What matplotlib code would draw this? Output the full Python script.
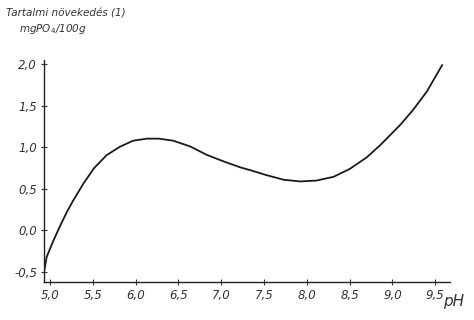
import matplotlib.pyplot as plt

# readings (pH vs. content increase, mgPO4/100g)
ph = [4.93, 4.96, 5.04, 5.12, 5.195, 5.27, 5.39, 5.51, 5.66, 5.82, 5.97, 6.13,
      6.27, 6.44, 6.64, 6.83, 7.03, 7.22, 7.34, 7.53, 7.73, 7.92, 8.11, 8.31,
      8.50, 8.70, 8.86, 9.09, 9.24, 9.40, 9.58]
novekedes = [-0.50, -0.32, -0.12, 0.06, 0.22, 0.36, 0.565, 0.745, 0.906, 1.01, 1.08, 1.105,
             1.105, 1.08, 1.01, 0.91, 0.83, 0.76, 0.725, 0.665, 0.61, 0.59, 0.60, 0.645,
             0.74, 0.88, 1.03, 1.27, 1.45, 1.67, 1.99]

x_ticks = [5.0, 5.5, 6.0, 6.5, 7.0, 7.5, 8.0, 8.5, 9.0, 9.5]
x_labels = ['5,0', '5,5', '6,0', '6,5', '7,0', '7,5', '8,0', '8,5', '9,0', '9,5']
y_ticks = [-0.5, 0.0, 0.5, 1.0, 1.5, 2.0]
y_labels = ['-0,5', '0,0', '0,5', '1,0', '1,5', '2,0']

ink = '#333333'

fig = plt.figure(figsize=(4.74, 3.2), dpi=100)
ax = fig.add_axes([0.093, 0.119, 0.856, 0.693])

ax.plot(ph, novekedes, color='#1a1a1a', linewidth=1.3, solid_joinstyle='round')

ax.set_xlim(4.93, 9.67)
ax.set_ylim(-0.62, 2.05)
ax.set_xticks(x_ticks)
ax.set_xticklabels(x_labels, fontstyle='italic', fontsize=8.5, color=ink)
ax.set_yticks(y_ticks)
ax.set_yticklabels(y_labels, fontstyle='italic', fontsize=8.5, color=ink)
ax.tick_params(axis='both', direction='inout', length=4, width=0.8, colors=ink,
               labelcolor=ink, pad=3)

for side in ['top', 'right']:
    ax.spines[side].set_visible(False)
for side in ['left', 'bottom']:
    ax.spines[side].set_color('#222222')
    ax.spines[side].set_linewidth(1.0)

fig.text(0.012, 0.975, 'Tartalmi növekedés (1)', fontstyle='italic', fontsize=7.5,
         color=ink, va='top', ha='left')
fig.text(0.04, 0.93, 'mgPO$_4$/100g', fontstyle='italic', fontsize=7.5,
         color=ink, va='top', ha='left')
fig.text(0.935, 0.035, 'pH', fontstyle='italic', fontsize=11, color=ink,
         va='bottom', ha='left')

fig.savefig('out.png', dpi=100)
